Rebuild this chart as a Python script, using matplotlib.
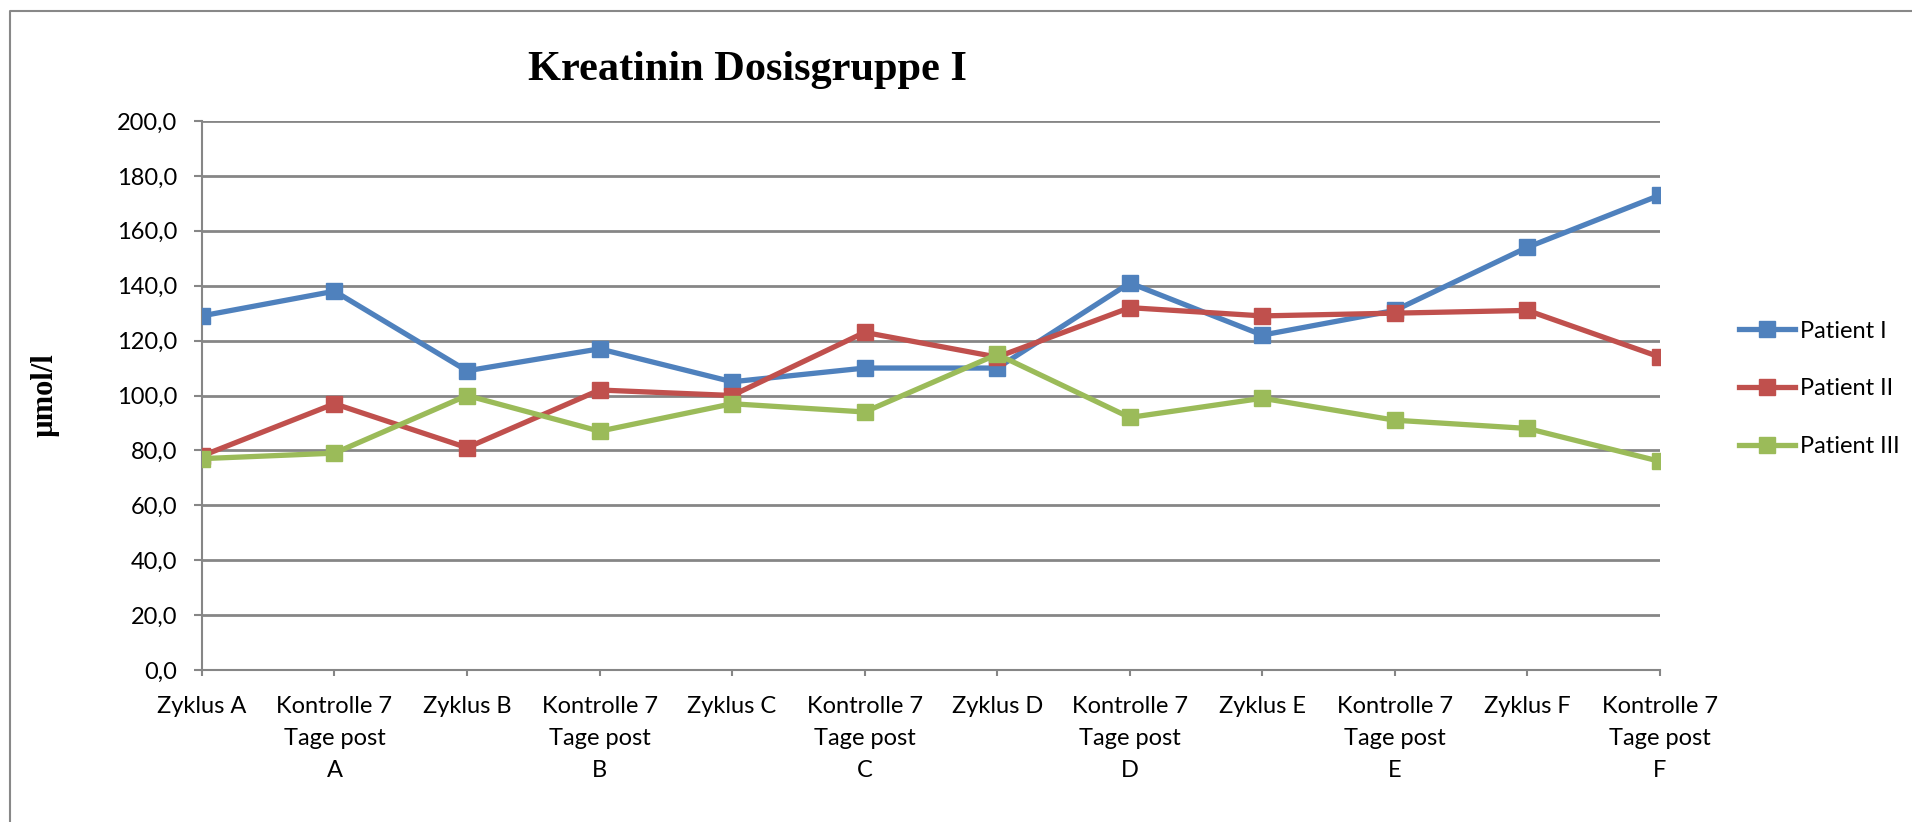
import matplotlib
matplotlib.use("Agg")
import matplotlib.pyplot as plt
from matplotlib.lines import Line2D
from matplotlib.ticker import FuncFormatter, MultipleLocator

# Daten (µmol/l)
kategorien = ["Zyklus A", "Kontrolle 7\nTage post\nA", "Zyklus B", "Kontrolle 7\nTage post\nB",
              "Zyklus C", "Kontrolle 7\nTage post\nC", "Zyklus D", "Kontrolle 7\nTage post\nD",
              "Zyklus E", "Kontrolle 7\nTage post\nE", "Zyklus F", "Kontrolle 7\nTage post\nF"]
patient_1 = [129, 138, 109, 117, 105, 110, 110, 141, 122, 131, 154, 173]
patient_2 = [78, 97, 81, 102, 100, 123, 114, 132, 129, 130, 131, 114]
patient_3 = [77, 79, 100, 87, 97, 94, 115, 92, 99, 91, 88, 76]
namen = ["Patient I", "Patient II", "Patient III"]
farben = ["#4F81BD", "#C0504D", "#9BBB59"]

# Calibri-ähnliche Schrift
schrift = "Lato"

fig = plt.figure(figsize=(19.12, 8.22), dpi=100)
ax = fig.add_axes([0.1056, 0.1849, 0.7626, 0.6679])

x = list(range(len(kategorien)))
for werte, name, farbe in zip([patient_1, patient_2, patient_3], namen, farben):
    ax.plot(x, werte, color=farbe, lw=3.8, marker="s", markersize=11, label=name, zorder=3)

ax.set_xlim(0, len(kategorien) - 1)
ax.set_ylim(0, 200)
ax.yaxis.set_major_locator(MultipleLocator(20))
ax.yaxis.set_major_formatter(FuncFormatter(lambda v, p: "{:.1f}".format(v).replace(".", ",")))
ax.set_xticks(x)
ax.set_xticklabels(kategorien, fontfamily=schrift, fontsize=17, linespacing=1.66, va="top")
for lbl in ax.get_yticklabels():
    lbl.set_fontfamily(schrift)
    lbl.set_fontsize(17)

ax.grid(axis="y", color="#868686", lw=2)
ax.set_axisbelow(True)
for s in ["top", "right"]:
    ax.spines[s].set_visible(False)
ax.spines["left"].set_color("#868686")
ax.spines["bottom"].set_color("#868686")
ax.spines["left"].set_linewidth(1.5)
ax.spines["bottom"].set_linewidth(1.5)
ax.tick_params(axis="y", length=6, width=1.5, color="#868686", pad=12)
ax.tick_params(axis="x", length=4.5, width=1.5, color="#868686", pad=14)

ax.set_ylabel("µmol/l", fontfamily="Liberation Serif", fontweight="bold", fontsize=22)
ax.yaxis.set_label_coords(-0.0974, 0.5)

fig.text(0.391, 0.903, "Kreatinin Dosisgruppe I", ha="center", va="baseline",
         fontfamily="Liberation Serif", fontweight="bold", fontsize=30.5)

leg = ax.legend(loc="center left", bbox_to_anchor=(1739 / 1912, 0.527), bbox_transform=fig.transFigure,
                frameon=False, prop={"family": schrift, "size": 17}, labelspacing=1.55,
                handlelength=2.37, handletextpad=0.2, borderpad=0, borderaxespad=0)

# Rahmen um das Diagramm
fig.add_artist(Line2D([10 / 1912, 10 / 1912, 1.0], [0.0, 1 - 11 / 822, 1 - 11 / 822],
                      transform=fig.transFigure, color="#888888", lw=1.5))

fig.savefig("out.png", dpi=100)
